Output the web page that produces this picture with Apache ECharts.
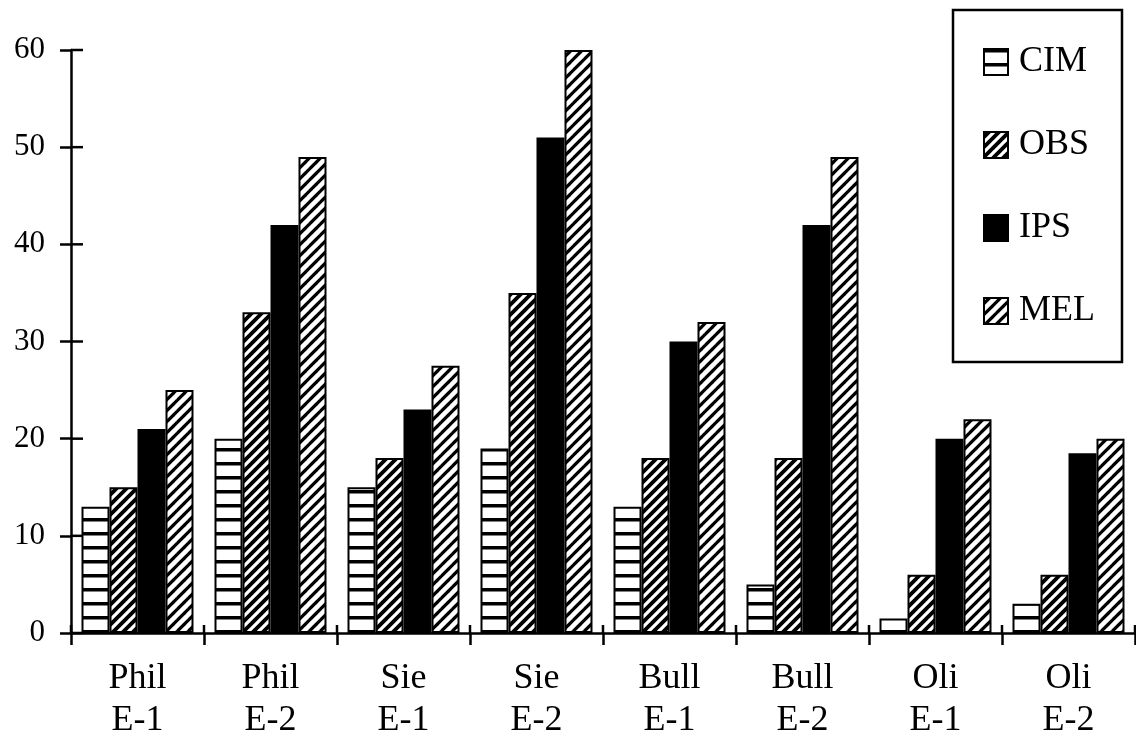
<!DOCTYPE html>
<html>
<head>
<meta charset="utf-8">
<script src="https://cdn.jsdelivr.net/npm/echarts@6/dist/echarts.min.js"></script>
<style>
html,body{margin:0;padding:0;background:#fff;}
#chart{width:1136px;height:742px;}
</style>
</head>
<body>
<div id="chart"></div>
<script>
const categories = ['Phil\nE-1','Phil\nE-2','Sie\nE-1','Sie\nE-2','Bull\nE-1','Bull\nE-2','Oli\nE-1','Oli\nE-2'];
const seriesNames = ['CIM','OBS','IPS','MEL'];
const cimValues = [13, 20, 15, 19, 13, 5, 1.5, 3];
const obsValues = [15, 33, 18, 35, 18, 18, 6, 6];
const ipsValues = [21, 42, 23, 51, 30, 42, 20, 18.5];
const melValues = [25, 49, 27.5, 60, 32, 49, 22, 20];
const yTickValues = [0, 10, 20, 30, 40, 50, 60];
const yMin = 0, yMax = 60, yInterval = 10;

function stripeTile(){
  const c = document.createElement('canvas');
  c.width = 8; c.height = 14;
  const g = c.getContext('2d');
  g.fillStyle = '#fff'; g.fillRect(0,0,8,14);
  g.fillStyle = '#000'; g.fillRect(0,0,8,3.5);
  return c;
}
function hatchTile(s, lw){
  const c = document.createElement('canvas');
  c.width = s; c.height = s;
  const g = c.getContext('2d');
  g.fillStyle = '#000'; g.fillRect(0,0,s,s);
  g.strokeStyle = '#fff'; g.lineWidth = lw; g.lineCap = 'square';
  for (let k = -1; k <= 1; k++){
    g.beginPath();
    g.moveTo(k*s, s);
    g.lineTo(k*s + s, 0);
    g.stroke();
  }
  return c;
}
const fills = [
  {image: stripeTile(), repeat: 'repeat'},
  {image: hatchTile(10, 3.2), repeat: 'repeat'},
  '#000',
  {image: hatchTile(11, 4.5), repeat: 'repeat'}
];
const dataSets = [cimValues, obsValues, ipsValues, melValues];

const chart = echarts.init(document.getElementById('chart'), null, {renderer:'canvas'});
const font = '"Liberation Serif", "DejaVu Serif", serif';
const tickStyle = {stroke: '#000', lineWidth: 2.5};
const barSeries = seriesNames.map((name, i) => ({
  name: name,
  type: 'bar',
  barWidth: 28,
  barGap: '0%',
  data: dataSets[i],
  itemStyle: {color: fills[i], borderColor: '#000', borderWidth: 2}
}));
// inner halves of the crossing tick marks, placed via the axes' own scales
const yInnerTicks = {
  name: '_yticks', type: 'custom', silent: true, clip: false, z: 5,
  data: yTickValues.map(v => [0, v]),
  renderItem: function (params, api) {
    const cs = params.coordSys;
    const y = api.coord([0, api.value(1)])[1];
    return {type: 'line', shape: {x1: cs.x, y1: y, x2: cs.x + 12, y2: y}, style: tickStyle};
  }
};
const xInnerTicks = {
  name: '_xticks', type: 'custom', silent: true, clip: false, z: 5,
  data: categories.map((c, i) => [i, 0]),
  renderItem: function (params, api) {
    const p = api.coord([api.value(0), 0]);
    const half = api.size([1, 0])[0] / 2;
    const kids = [{type: 'line', shape: {x1: p[0] - half, y1: p[1] - 8, x2: p[0] - half, y2: p[1]}, style: tickStyle}];
    if (params.dataIndex === categories.length - 1) {
      kids.push({type: 'line', shape: {x1: p[0] + half, y1: p[1] - 8, x2: p[0] + half, y2: p[1]}, style: tickStyle});
    }
    return {type: 'group', children: kids};
  }
};
const option = {
  backgroundColor: '#fff',
  animation: false,
  grid: {left: 71, right: 1, top: 50, bottom: 109, containLabel: false},
  legend: {
    orient: 'vertical',
    left: 953, top: 10,
    padding: [34, 27, 33, 30],
    itemWidth: 24, itemHeight: 26,
    itemGap: 47,
    icon: 'rect',
    backgroundColor: '#fff',
    borderColor: '#000', borderWidth: 2.5,
    selectedMode: false,
    textStyle: {fontFamily: font, fontSize: 36, color: '#000', lineHeight: 36, padding: [0,0,0,6]},
    data: seriesNames
  },
  xAxis: {
    type: 'category', data: categories, position: 'bottom', boundaryGap: true,
    axisLine: {show: true, lineStyle: {color: '#000', width: 2.5}},
    axisTick: {show: true, inside: false, length: 12, interval: 0, lineStyle: {color: '#000', width: 2.5}},
    axisLabel: {color: '#000', fontFamily: font, fontSize: 36, lineHeight: 42, margin: 25, interval: 0}
  },
  yAxis: {
    type: 'value', min: yMin, max: yMax, interval: yInterval, position: 'left',
    splitLine: {show: false},
    axisLine: {show: true, lineStyle: {color: '#000', width: 2.5}},
    axisTick: {show: true, inside: false, length: 11, lineStyle: {color: '#000', width: 2.5}},
    axisLabel: {color: '#000', fontFamily: font, fontSize: 31, margin: 26}
  },
  series: barSeries.concat([yInnerTicks, xInnerTicks])
};
chart.setOption(option);
</script>
</body>
</html>
